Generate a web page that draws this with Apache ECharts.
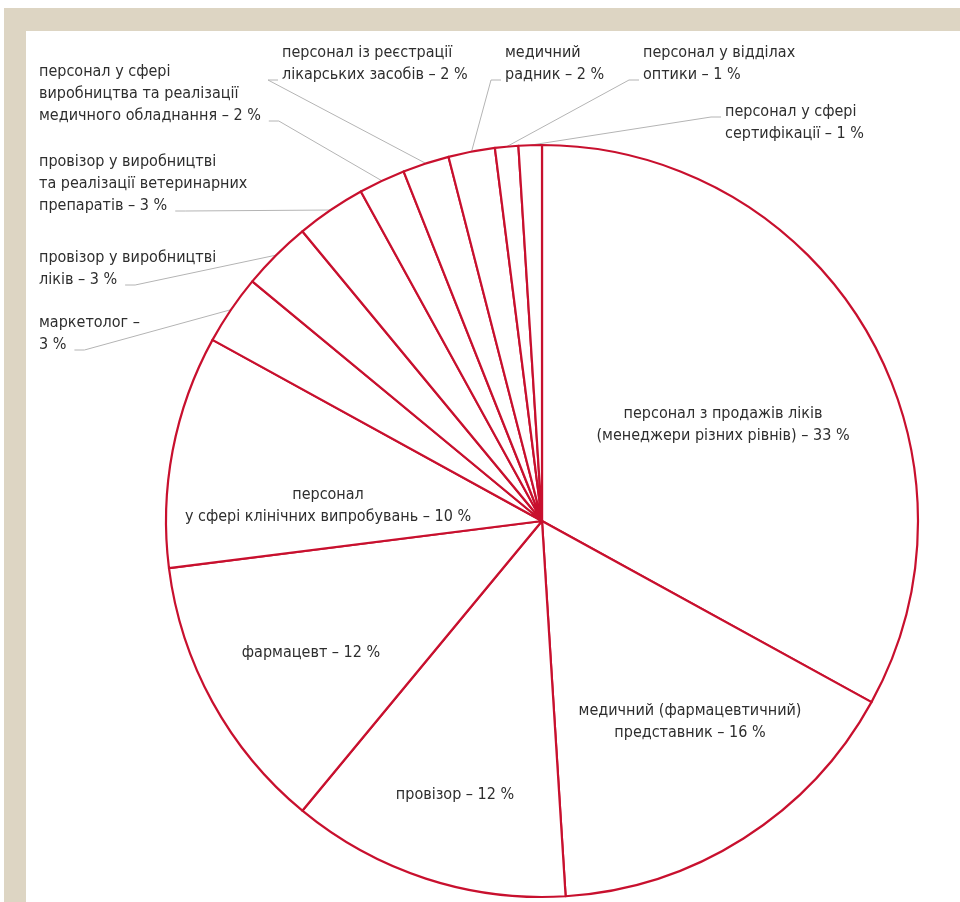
<!DOCTYPE html>
<html><head><meta charset="utf-8">
<script src="https://cdn.jsdelivr.net/npm/echarts@6/dist/echarts.min.js"></script>
<style>
html,body{margin:0;padding:0;background:#fff;}
#frame{position:absolute;left:4px;top:8px;width:956px;height:894px;background:#ddd5c3;}
#paper{position:absolute;left:26px;top:31px;width:934px;height:871px;background:#fff;}
#chart{position:absolute;left:0;top:0;width:960px;height:902px;}
</style></head><body>
<div id="frame"></div><div id="paper"></div><div id="chart"></div>
<script>
// ---- data ----
const categories = [
  'персонал з продажів ліків\n(менеджери різних рівнів)',
  'медичний (фармацевтичний)\nпредставник',
  'провізор',
  'фармацевт',
  'персонал\nу сфері клінічних випробувань',
  'маркетолог',
  'провізор у виробництві\nліків',
  'провізор у виробництві\nта реалізації ветеринарних\nпрепаратів',
  'персонал у сфері\nвиробництва та реалізації\nмедичного обладнання',
  'персонал із реєстрації\nлікарських засобів',
  'медичний\nрадник',
  'персонал у відділах\nоптики',
  'персонал у сфері\nсертифікації'
];
const values = [33, 16, 12, 12, 10, 3, 3, 3, 2, 2, 2, 1, 1];
const valueOnNewLine = [false, false, false, false, false, true, false, false, false, false, false, false, false];

// ---- layout (label placement only) ----
const FONT_FAMILY = '"Liberation Sans Narrow", "Arial Narrow", "DejaVu Sans Condensed", sans-serif';
const FONT_SIZE = 16;
const LINE_H = 22;
const insideCenter = {0: [723, 425], 1: [690, 722], 2: [455, 795], 3: [311, 653], 4: [328, 506]};
// [left x, top y, line index the leader attaches to, side of the text the leader attaches to]
const outsideTopLeft = {
  5: [39, 312, 'last', 'right'], 6: [39, 247, 'last', 'right'], 7: [39, 151, 'last', 'right'], 8: [39, 61, 'last', 'right'],
  9: [282, 42, 'last', 'left'], 10: [505, 42, 'last', 'left'], 11: [643, 42, 'last', 'left'], 12: [725, 101, 0, 'left']
};

function labelText(i) {
  return categories[i] + (valueOnNewLine[i] ? ' –\n' : ' – ') + values[i] + ' %';
}
const ctx = document.createElement('canvas').getContext('2d');
ctx.font = FONT_SIZE + 'px ' + FONT_FAMILY;
function measure(t) { return ctx.measureText(t).width; }

const data = categories.map((c, i) => {
  const inside = insideCenter[i] !== undefined;
  return {
    name: c, value: values[i],
    label: {position: inside ? 'inside' : 'outside'},
    labelLine: {show: !inside}
  };
});

const chart = echarts.init(document.getElementById('chart'), null, {renderer: 'canvas'});
chart.setOption({
  backgroundColor: 'transparent',
  animation: false,
  series: [{
    type: 'pie',
    silent: true,
    center: [542, 521],
    radius: 376,
    startAngle: 90,
    clockwise: true,
    avoidLabelOverlap: false,
    data: data,
    itemStyle: {color: '#ffffff', borderColor: '#c8102e', borderWidth: 2.2},
    label: {
      show: true,
      formatter: p => labelText(p.dataIndex),
      color: '#2e2e2e',
      fontFamily: FONT_FAMILY,
      fontSize: FONT_SIZE,
      lineHeight: LINE_H,
      align: 'center'
    },
    labelLine: {show: true, lineStyle: {color: '#b4b4b4', width: 1}},
    emphasis: {disabled: true},
    labelLayout: function (p) {
      const i = p.dataIndex;
      if (insideCenter[i]) {
        return {x: insideCenter[i][0], y: insideCenter[i][1], align: 'center', verticalAlign: 'middle'};
      }
      const o = outsideTopLeft[i];
      const lines = labelText(i).split('\n');
      const li = o[2] === 'last' ? lines.length - 1 : o[2];
      const yl = o[1] + LINE_H * li + LINE_H / 2 + 5;
      const anchor = p.labelLinePoints ? p.labelLinePoints[0] : [o[0], yl];
      let end, knee;
      if (o[3] === 'left') {
        end = [o[0] - 4, yl]; knee = [o[0] - 14, yl];
      } else {
        const w = measure(lines[li]);
        end = [o[0] + w + 8, yl]; knee = [o[0] + w + 18, yl];
      }
      return {x: o[0], y: o[1], align: 'left', verticalAlign: 'top', labelLinePoints: [anchor, knee, end]};
    }
  }]
});
</script>
</body></html>
